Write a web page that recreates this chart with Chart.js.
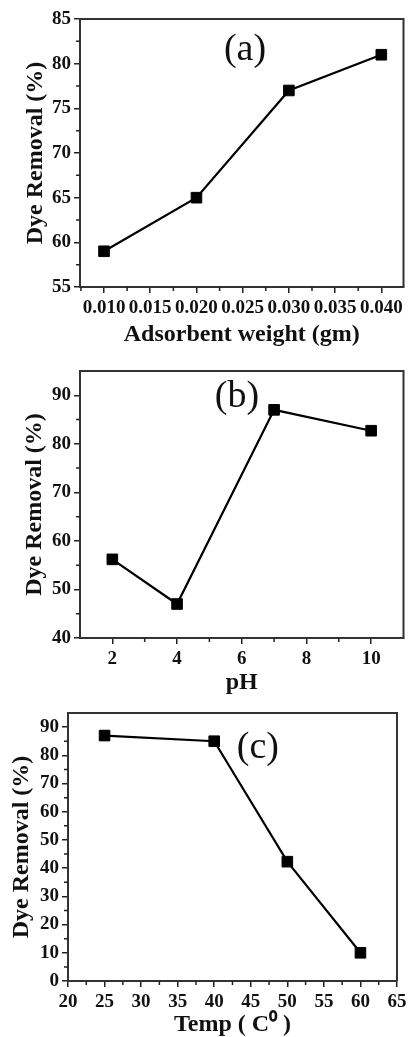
<!DOCTYPE html>
<html><head><meta charset="utf-8">
<script src="https://cdn.jsdelivr.net/npm/chart.js@4/dist/chart.umd.min.js"></script>
<style>
html,body{margin:0;padding:0;background:#fff;width:412px;height:1037px;overflow:hidden}
canvas{position:absolute;left:0;display:block}
</style></head><body>
<canvas id="ca" width="412" height="347" style="top:0px"></canvas>
<canvas id="cb" width="412" height="348" style="top:347px"></canvas>
<canvas id="cc" width="412" height="342" style="top:695px"></canvas>
<script>
// ---- Panel (a): adsorbent weight ----
const aX = [0.010, 0.020, 0.030, 0.040];
const aY = [59, 65, 77, 81];
const aXTicks = [0.010, 0.015, 0.020, 0.025, 0.030, 0.035, 0.040];
const aXLabels = ['0.010', '0.015', '0.020', '0.025', '0.030', '0.035', '0.040'];
const aYTicks = [55, 60, 65, 70, 75, 80, 85];
const aYLabels = ['55', '60', '65', '70', '75', '80', '85'];

// ---- Panel (b): pH ----
const bX = [2, 4, 7, 10];
const bY = [56.2, 47, 87, 82.7];
const bXTicks = [2, 4, 6, 8, 10];
const bXLabels = ['2', '4', '6', '8', '10'];
const bYTicks = [40, 50, 60, 70, 80, 90];
const bYLabels = ['40', '50', '60', '70', '80', '90'];

// ---- Panel (c): temperature ----
const cX = [25, 40, 50, 60];
const cY = [87, 85, 42.3, 10];
const cXTicks = [20, 25, 30, 35, 40, 45, 50, 55, 60, 65];
const cXLabels = ['20', '25', '30', '35', '40', '45', '50', '55', '60', '65'];
const cYTicks = [0, 10, 20, 30, 40, 50, 60, 70, 80, 90];
const cYLabels = ['0', '10', '20', '30', '40', '50', '60', '70', '80', '90'];

const FAM = "'Liberation Serif', 'Times New Roman', serif";
const INK = '#111';

function minorVals(ticks, min, max) {
  const out = [];
  for (let i = 0; i < ticks.length - 1; i++) out.push((ticks[i] + ticks[i + 1]) / 2);
  const h = (ticks[1] - ticks[0]) / 2;
  if (ticks[0] - h > min) out.push(ticks[0] - h);
  if (ticks[ticks.length - 1] + h < max) out.push(ticks[ticks.length - 1] + h);
  return out;
}

const framePlugin = {
  id: 'frame',
  afterDraw(chart, args, o) {
    const {ctx, chartArea: {left, top, right, bottom}} = chart;
    const xs = chart.scales.x, ys = chart.scales.y;
    ctx.save();
    ctx.strokeStyle = '#333';
    ctx.lineWidth = 2;
    ctx.beginPath();
    ctx.moveTo(left, bottom); ctx.lineTo(left, top); ctx.lineTo(right, top); ctx.lineTo(right, bottom);
    ctx.stroke();
    ctx.strokeStyle = '#222';
    ctx.lineWidth = 1.5;
    ctx.beginPath();
    minorVals(o.xTicks, xs.min, xs.max).forEach(v => {
      const px = xs.getPixelForValue(v);
      ctx.moveTo(px, bottom); ctx.lineTo(px, bottom + 4);
    });
    minorVals(o.yTicks, ys.min, ys.max).forEach(v => {
      const py = ys.getPixelForValue(v);
      ctx.moveTo(left, py); ctx.lineTo(left - 4, py);
    });
    ctx.stroke();
    ctx.font = '38px ' + FAM;
    ctx.fillStyle = INK;
    ctx.textAlign = 'center';
    ctx.textBaseline = 'middle';
    ctx.fillText(o.text, left + o.fx * (right - left), top + o.fy * (bottom - top));
    ctx.restore();
  }
};

function makeChart(id, xs, ys, c) {
  const tickFont = {family: FAM, size: 19, weight: 'bold'};
  const titleFont = {family: FAM, size: 24, weight: 'bold', lineHeight: 1};
  return new Chart(document.getElementById(id), {
    type: 'line',
    data: {
      datasets: [{
        data: xs.map((x, i) => ({x: x, y: ys[i]})),
        borderColor: '#000',
        borderWidth: 2.2,
        tension: 0,
        fill: false,
        pointStyle: 'rect',
        pointRadius: 7.5,
        pointBackgroundColor: '#000',
        pointBorderColor: '#000',
        pointBorderWidth: 1
      }]
    },
    options: {
      responsive: false,
      animation: false,
      layout: {padding: {top: c.padTop, left: c.padLeft, right: c.padRight, bottom: 0}},
      plugins: {
        legend: {display: false},
        tooltip: {enabled: false},
        frame: {text: c.label, fx: c.fx, fy: c.fy, xTicks: c.xTicks, yTicks: c.yTicks}
      },
      scales: {
        x: {
          type: 'linear', min: c.xMin, max: c.xMax,
          afterBuildTicks: s => { s.ticks = c.xTicks.map(v => ({value: v})); },
          afterFit: s => { s.height = c.xHeight; },
          ticks: {autoSkip: false, maxRotation: 0, minRotation: 0, padding: 4, color: INK, font: tickFont,
                  callback: (v, i) => c.xLabels[i]},
          grid: {display: true, drawOnChartArea: false, drawTicks: true, tickLength: 6, color: '#222', lineWidth: 1.5},
          border: {display: true, color: '#333', width: 2},
          title: {display: true, text: c.xTitle, color: INK, font: titleFont, padding: 0}
        },
        y: {
          type: 'linear', min: c.yMin, max: c.yMax,
          afterBuildTicks: s => { s.ticks = c.yTicks.map(v => ({value: v})); },
          afterFit: s => { s.width = c.yWidth; },
          ticks: {padding: 3, color: INK, font: tickFont, callback: (v, i) => c.yLabels[i]},
          grid: {display: true, drawOnChartArea: false, drawTicks: true, tickLength: 6, color: '#222', lineWidth: 1.5},
          border: {display: true, color: '#333', width: 2},
          title: {display: true, text: 'Dye Removal (%)', color: INK, font: titleFont, padding: 0}
        }
      }
    },
    plugins: [framePlugin]
  });
}

makeChart('ca', aX, aY, {
  xMin: 0.0074, xMax: 0.0424, yMin: 55, yMax: 85,
  xTicks: aXTicks, xLabels: aXLabels, yTicks: aYTicks, yLabels: aYLabels,
  xTitle: 'Adsorbent weight (gm)', label: '(a)', fx: 0.51, fy: 0.115,
  padTop: 19, padLeft: 24, padRight: 2, yWidth: 56, xHeight: 60
});
makeChart('cb', bX, bY, {
  xMin: 1, xMax: 11, yMin: 40, yMax: 95,
  xTicks: bXTicks, xLabels: bXLabels, yTicks: bYTicks, yLabels: bYLabels,
  xTitle: 'pH', label: '(b)', fx: 0.485, fy: 0.098,
  padTop: 24, padLeft: 23, padRight: 2, yWidth: 57, xHeight: 57
});
makeChart('cc', cX, cY, {
  xMin: 20, xMax: 65, yMin: 0, yMax: 95,
  xTicks: cXTicks, xLabels: cXLabels, yTicks: cYTicks, yLabels: cYLabels,
  xTitle: 'Temp ( C\u2070 )', label: '(c)', fx: 0.577, fy: 0.13,
  padTop: 18, padLeft: 10, padRight: 15, yWidth: 58, xHeight: 56
});
</script>
</body></html>
